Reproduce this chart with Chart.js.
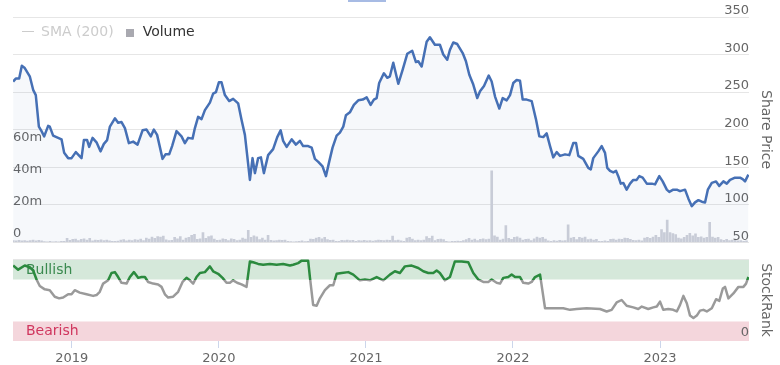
<!DOCTYPE html>
<html lang="en">
<head>
  <meta charset="utf-8">
  <title>Share Price, Volume and StockRank</title>
  <script src="https://cdn.jsdelivr.net/npm/chart.js@4/dist/chart.umd.min.js"></script>
  <style>
    body { margin:0; background:#fff; font-family:"DejaVu Sans", sans-serif; }
    .wrap { position:relative; width:780px; height:365px; overflow:hidden; }
    canvas { position:absolute; left:0; display:block; }
    #priceChart { top:0; }
    #rankChart { top:250px; }
    .rangeMark { position:absolute; left:348px; top:0; width:38px; height:2px; background:#a7bbe4; }
    #legend { position:absolute; left:22px; top:22px; display:flex; gap:12px; font-size:14px; line-height:18px; z-index:2; }
    #legend .item { display:flex; align-items:center; }
    #legend .line { width:12px; height:1px; margin-right:7px; }
    #legend .square { width:8px; height:8px; margin-right:9px; margin-top:3px; }
  </style>
</head>
<body>
  <div class="wrap">
    <div class="rangeMark"></div>
    <canvas id="priceChart" width="780" height="250"></canvas>
    <canvas id="rankChart" width="780" height="115"></canvas>
    <div id="legend"></div>
  </div>

  <script>
    // ---- data (dates as decimal years) ----
    const yearTicks = [2019, 2020, 2021, 2022, 2023];
    const volumeTicks = [0, 20e6, 40e6, 60e6];

    const priceTimes = [
      2018.601,2018.619,2018.642,2018.660,2018.680,2018.714,2018.737,2018.755,2018.776,2018.794,
      2018.812,2018.839,2018.850,2018.873,2018.907,2018.930,2018.948,2018.975,2018.998,
      2019.027,2019.066,2019.082,2019.104,2019.118,2019.141,2019.168,2019.195,2019.218,2019.240,
      2019.259,2019.293,2019.315,2019.338,2019.361,2019.388,2019.417,2019.447,2019.481,2019.508,
      2019.537,2019.558,2019.580,2019.617,2019.637,2019.662,2019.682,2019.712,2019.746,2019.769,
      2019.791,2019.821,
      2019.837,2019.859,2019.882,2019.905,2019.939,2019.961,2019.980,2020.000,2020.018,2020.041,
      2020.070,2020.097,2020.131,2020.154,2020.177,2020.193,2020.211,2020.229,2020.245,2020.267,
      2020.286,2020.306,2020.335,2020.369,2020.397,2020.420,2020.437,2020.461,2020.495,2020.524,
      2020.551,2020.573,2020.607,2020.631,2020.653,2020.676,2020.705,2020.728,2020.750,2020.773,
      2020.801,2020.823,2020.846,2020.864,2020.891,2020.918,2020.948,2020.978,2021.005,2021.032,
      2021.054,2021.073,2021.090,
      2021.122,2021.145,2021.163,2021.186,2021.220,2021.250,2021.281,2021.315,2021.340,2021.356,
      2021.379,2021.413,2021.435,2021.469,2021.503,2021.526,2021.553,2021.571,2021.594,2021.621,
      2021.658,2021.680,2021.703,2021.730,2021.757,2021.776,2021.803,2021.835,2021.855,2021.878,
      2021.907,2021.930,2021.957,2021.980,2022.002,2022.025,2022.048,2022.066,2022.093,2022.127,
      2022.156,2022.179,2022.206,2022.229,2022.252,2022.274,2022.297,2022.320,2022.354,2022.383,
      2022.410,2022.429,2022.444,2022.478,2022.512,2022.529,2022.546,2022.580,2022.603,2022.626,
      2022.641,2022.660,2022.682,2022.701,2022.716,2022.733,2022.750,2022.773,2022.796,2022.818,
      2022.841,2022.859,2022.882,2022.910,2022.944,2022.966,2022.995,2023.018,2023.046,2023.063,
      2023.090,2023.114,2023.136,2023.170,2023.193,2023.216,2023.238,2023.261,2023.284,2023.306,
      2023.325,2023.352,2023.381,2023.403,2023.431,2023.454,2023.476,2023.510,2023.544,2023.562,
      2023.578,2023.601
    ];
    const priceValues = [
      264,268,268,285,282,271,253,246,204,198,191,205,204,192,189,187,169,162,162,
      170,162,186,186,177,189,183,171,181,186,204,215,209,210,202,182,184,180,199,200,
      191,200,193,161,167,167,178,198,191,182,189,188,
      202,217,214,226,236,248,250,263,263,246,238,241,235,213,193,165,133,162,142,162,
      163,142,166,174,190,199,185,177,187,180,185,178,178,176,161,157,151,138,157,176,
      192,196,204,219,223,233,239,240,243,233,240,242,262,
      275,269,271,289,261,280,301,305,290,291,284,317,323,313,313,300,293,306,316,314,
      302,291,273,260,242,251,258,272,264,244,228,242,239,246,262,266,265,240,240,238,
      214,191,190,195,178,163,170,165,167,166,
      182,182,165,161,149,147,162,171,178,169,149,145,143,145,138,128,129,120,128,133,
      133,138,136,128,128,127,138,131,120,117,120,120,118,120,108,98,103,106,104,103,
      120,129,131,125,131,128,133,136,136,134,131,140
    ];

    // weekly volume, millions
    const volumeStart = 2018.602;
    const volumeStep = 0.01925;
    const volumeValues = [
      1.0,0.8,1.2,0.9,1.1,0.7,1.0,1.3,0.9,1.2, 0.8,0.4,0.3,0.5,0.3,0.4,0.3,0.5,0.6,2.4,
      1.2,1.8,2.0,1.0,1.8,2.2,1.4,2.4,0.8,1.3, 1.2,1.5,1.0,1.3,0.8,0.6,0.5,0.7,1.4,1.7,
      0.8,1.3,1.0,1.6,1.4,1.9,1.1,2.6,2.0,3.2, 2.4,3.6,3.2,3.8,1.5,1.0,1.2,3.0,2.2,3.6,
      1.4,2.6,3.0,4.4,5.0,1.8,2.2,6.0,2.4,3.6, 4.0,2.0,1.2,1.4,2.2,1.8,1.0,2.2,1.8,1.0,
      1.4,2.6,2.0,7.5,3.0,4.0,3.4,1.6,2.6,1.4, 4.4,1.2,0.8,1.0,1.4,1.2,1.4,0.5,0.4,0.3,
      0.4,0.6,0.9,0.4,0.6,2.0,1.8,2.6,3.0,2.2, 3.0,1.6,1.2,1.4,0.6,0.5,1.2,1.0,1.3,1.1,
      1.2,0.5,1.0,0.8,1.2,0.9,1.1,0.7,1.0,1.3, 1.2,1.0,1.4,1.2,3.8,1.0,1.4,0.8,0.6,2.6,
      3.0,2.0,1.0,1.3,1.0,1.4,3.6,2.4,3.8,1.0, 1.8,2.0,1.6,0.5,0.3,0.6,0.5,0.7,0.6,1.0,
      1.6,2.4,1.4,2.0,1.0,1.8,2.2,1.6,2.0,45, 4.0,3.2,1.4,2.0,10.5,2.4,1.8,3.0,3.4,2.6,
      1.4,1.8,2.0,1.0,2.2,3.2,2.6,3.0,2.0,0.8, 0.6,1.0,0.7,1.2,0.8,1.0,11,2.6,3.0,1.6,
      3.0,2.6,3.2,1.6,2.0,1.4,1.8,0.6,0.5,0.8, 0.6,1.8,2.0,1.4,2.0,1.8,2.6,2.4,1.8,1.2,
      1.0,1.4,0.8,2.6,3.0,2.4,3.2,4.4,3.0,8.0, 6.0,14,6.0,5.4,4.8,2.6,2.2,3.0,4.4,5.6,
      4.0,5.2,3.0,3.4,2.6,3.0,12.5,3.2,2.6,3.0, 1.6,1.2,1.8,1.0,1.4,1.2,0.8,1.0,0.6,0.9
    ];

    const rankTimes = [
      2018.601,2018.635,2018.680,2018.714,2018.737,2018.760,2018.782,2018.816,2018.850,2018.884,
      2018.914,2018.941,2018.975,2018.998,2019.020,2019.054,2019.100,2019.145,2019.168,2019.190,
      2019.213,2019.247,2019.270,2019.293,2019.315,2019.338,2019.372,2019.395,2019.422,2019.451,
      2019.474,2019.497,2019.519,2019.553,2019.587,2019.610,2019.633,2019.655,2019.689,2019.723,
      2019.753,2019.780,2019.803,2019.825,2019.848,2019.871,2019.905,2019.939,2019.961,2019.995,
      2020.025,2020.052,2020.075,2020.097,2020.124,2020.154,2020.188,2020.211,2020.233,2020.267,
      2020.301,2020.347,2020.393,2020.437,2020.483,2020.505,2020.539,2020.563,2020.607,2020.619,
      2020.641,2020.665,2020.687,2020.721,2020.755,2020.778,2020.801,2020.835,2020.880,2020.914,
      2020.959,2020.993,2021.027,2021.073,2021.118,2021.163,2021.197,2021.231,2021.265,2021.311,
      2021.356,2021.390,2021.424,2021.458,2021.481,2021.503,2021.537,2021.571,2021.605,2021.651,
      2021.696,2021.730,2021.764,2021.798,2021.832,2021.855,2021.889,2021.912,2021.934,2021.968,
      2021.991,2022.014,2022.048,2022.070,2022.104,2022.127,2022.150,2022.184,2022.218,2022.274,
      2022.342,2022.388,2022.433,2022.501,2022.592,2022.637,2022.671,2022.705,2022.739,2022.773,
      2022.818,2022.852,2022.876,2022.920,2022.954,2022.978,2023.000,2023.022,2023.056,2023.090,
      2023.114,2023.136,2023.159,2023.182,2023.204,2023.227,2023.250,2023.272,2023.295,2023.318,
      2023.352,2023.381,2023.403,2023.427,2023.442,2023.465,2023.499,2023.533,2023.567,2023.585,
      2023.601
    ];
    const rankValues = [
      92,87,92,90,86,75,67,63,62,54, 52,53,57,57,62,59,57,55,56,60,
      70,74,83,84,78,71,70,78,84,77, 78,78,72,70,69,66,57,53,54,60,
      72,77,74,70,78,83,84,91,85,82, 77,71,71,74,71,69,66,97,96,94,
      93,94,93,94,92,93,95,98,98,78, 44,43,52,62,68,68,82,83,84,81,
      74,75,74,78,74,81,85,83,91,92, 89,85,83,83,86,83,74,78,97,97,
      96,83,75,72,72,75,71,70,77,78, 81,78,78,71,70,72,78,81,40,40,
      40,38,39,40,39,36,38,47,50,43, 41,39,42,39,41,42,48,38,39,38,
      36,44,55,46,31,28,31,37,38,36, 40,51,49,64,66,52,58,66,66,70,
      78
    ];

    const bandLabels = ['Bullish', 'Bearish'];
    const bandFrom = [75, 0];
    const bandTo = [100, 25];

    // ---- shared look ----
    Chart.defaults.font.family = '"DejaVu Sans", sans-serif';
    Chart.defaults.font.size = 13;
    Chart.defaults.color = '#666';
    Chart.defaults.animation = false;

    const xMin = 2018.6, xMax = 2023.605;

    // top panel: price + volume
    const priceChart = new Chart(document.getElementById('priceChart'), {
      type: 'line',
      data: {
        datasets: [
          {
            type: 'line', label: 'Share Price',
            data: priceTimes.map((t, i) => ({x: t, y: priceValues[i]})),
            yAxisID: 'price', borderColor: '#4670b5', borderWidth: 2.5, borderJoinStyle: 'round',
            pointRadius: 0, fill: 'start', backgroundColor: 'rgba(70,112,181,0.05)', order: 0
          },
          { type: 'line', label: 'SMA (200)', data: [], hidden: true, yAxisID: 'price', borderColor: '#ccc' },
          {
            type: 'bar', label: 'Volume',
            data: volumeValues.map((v, i) => ({x: volumeStart + i * volumeStep, y: v * 1e6})),
            yAxisID: 'vol', backgroundColor: '#cfd1da', barThickness: 2, order: 1
          }
        ]
      },
      options: {
        responsive: false,
        layout: { padding: { top: 17, bottom: 7 } },
        plugins: { legend: { display: false }, tooltip: { enabled: false } },
        scales: {
          x: { type: 'linear', min: xMin, max: xMax, offset: false, display: false },
          price: {
            position: 'right', min: 50, max: 350,
            ticks: { stepSize: 50, mirror: true, padding: 0, labelOffset: -6 },
            grid: { color: '#e6e6e6', drawTicks: false },
            border: { display: false },
            title: { display: true, text: 'Share Price', font: { size: 14 }, padding: { top: 6, bottom: 0 } },
            afterFit: s => { s.width = 31; }
          },
          vol: {
            position: 'left', min: 0, max: 142e6,
            ticks: { mirror: true, padding: 0, labelOffset: -9,
                     callback: v => v === 0 ? '0' : Math.round(v / 1e6) + 'm' },
            afterBuildTicks: s => { s.ticks = volumeTicks.map(v => ({value: v})); },
            grid: { display: false },
            border: { display: false },
            afterFit: s => { s.width = 13; }
          }
        }
      }
    });

    // html legend from the chart's own legend items
    const legendEl = document.getElementById('legend');
    Chart.defaults.plugins.legend.labels.generateLabels(priceChart).forEach(item => {
      const ds = priceChart.data.datasets[item.datasetIndex];
      if (ds.label === 'Share Price') return;
      const el = document.createElement('div');
      el.className = 'item';
      const sym = document.createElement('span');
      sym.className = ds.type === 'bar' ? 'square' : 'line';
      sym.style.background = item.hidden ? '#ccc' : '#a9a9b0';
      const txt = document.createElement('span');
      txt.textContent = item.text;
      txt.style.color = item.hidden ? '#ccc' : '#333';
      el.append(sym, txt);
      legendEl.appendChild(el);
    });

    // bottom panel: StockRank
    const rankBands = {
      id: 'rankBands',
      beforeDatasetsDraw(chart) {
        const {ctx, chartArea: {left, right}, scales: {rank}} = chart;
        const fills = ['#d5e8da', '#f4d6dc'];
        const texts = ['#3a8a4f', '#d0365e'];
        bandLabels.forEach((name, i) => {
          const y1 = rank.getPixelForValue(bandTo[i]);
          const y2 = rank.getPixelForValue(bandFrom[i]);
          ctx.save();
          ctx.fillStyle = fills[i];
          ctx.fillRect(left, y1 + 1, right - left, y2 - y1 - 1);
          ctx.fillStyle = texts[i];
          ctx.font = '14px "DejaVu Sans"';
          ctx.textBaseline = 'middle';
          ctx.fillText(name, left + 13, (y1 + y2) / 2 + 1);
          ctx.restore();
        });
      }
    };

    function rankLineColor(c) {
      const chart = c.chart;
      const area = chart.chartArea;
      if (!area || !chart.scales.rank) return '#999';
      const yT = chart.scales.rank.getPixelForValue(bandFrom[0]);
      const g = chart.ctx.createLinearGradient(0, area.top, 0, area.bottom);
      const s = Math.min(1, Math.max(0, (yT - area.top) / (area.bottom - area.top)));
      g.addColorStop(0, '#2b8a3e');
      g.addColorStop(s, '#2b8a3e');
      g.addColorStop(s, '#9a9a9a');
      g.addColorStop(1, '#9a9a9a');
      return g;
    }

    const rankChart = new Chart(document.getElementById('rankChart'), {
      type: 'line',
      data: {
        datasets: [{
          label: 'StockRank',
          data: rankTimes.map((t, i) => ({x: t, y: rankValues[i]})),
          yAxisID: 'rank', borderWidth: 2.5, borderJoinStyle: 'round',
          pointRadius: 0, borderColor: rankLineColor, fill: false
        }]
      },
      options: {
        responsive: false,
        layout: { padding: { top: 9, left: 13 } },
        plugins: { legend: { display: false }, tooltip: { enabled: false } },
        scales: {
          x: {
            type: 'linear', min: xMin, max: xMax, offset: false,
            afterBuildTicks: s => { s.ticks = yearTicks.map(v => ({value: v})); },
            ticks: { callback: v => String(v), autoSkip: false, maxRotation: 0, padding: 3 },
            grid: { drawOnChartArea: false, tickLength: 7, color: '#ccd6eb' },
            border: { display: false },
            afterFit: s => { s.height = 24; }
          },
          rank: {
            position: 'right', min: 0, max: 100,
            afterBuildTicks: s => { s.ticks = [{value: 0}, {value: 100}]; },
            ticks: { mirror: true, padding: 0, labelOffset: -8, z: 1, callback: v => v === 0 ? '0' : '' },
            grid: { drawTicks: false, color: c => (c.tick && c.tick.value === 100) ? '#e6e6e6' : 'rgba(0,0,0,0)' },
            border: { display: false },
            title: { display: true, text: 'StockRank', font: { size: 14 }, padding: { top: 6, bottom: 0 } },
            afterFit: s => { s.width = 31; }
          }
        }
      },
      plugins: [rankBands]
    });
  </script>
</body>
</html>
